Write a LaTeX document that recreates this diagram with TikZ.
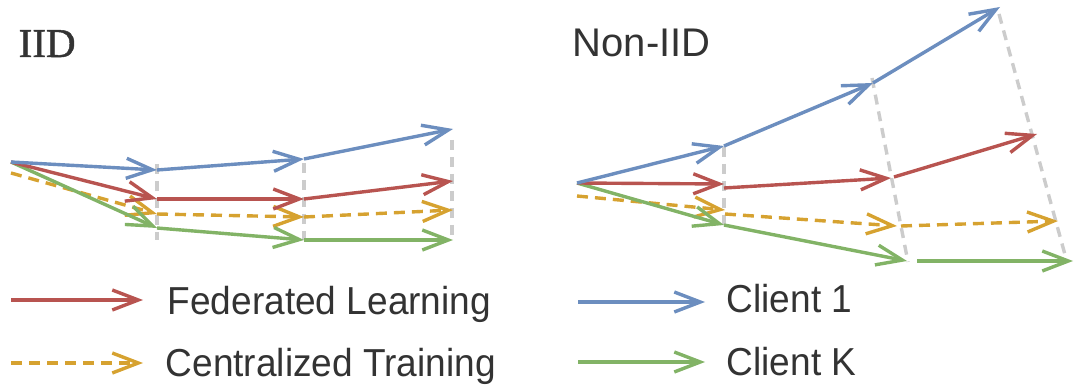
\documentclass[tikz,border=0pt]{standalone}
\usepackage{fontspec}
\setmainfont{Liberation Sans}
\newfontfamily\legfont[FakeStretch=0.95]{Liberation Sans}
\newfontfamily\ttlserif[FakeBold=1.2]{Liberation Serif}
\usetikzlibrary{arrows.meta}
\definecolor{cblue}{HTML}{6C8EBF}
\definecolor{cred}{HTML}{B85450}
\definecolor{cgreen}{HTML}{82B366}
\definecolor{corange}{HTML}{D6A230}
\definecolor{cgray}{HTML}{CCCCCC}
\definecolor{ctext}{HTML}{333333}
\begin{document}
\begin{tikzpicture}[x=1pt,y=-1pt,line width=3.4pt,
  vec/.style={-{Straight Barb[length=26pt,width=20pt]}},
  bluevec/.style={vec,draw=cblue},
  redvec/.style={vec,draw=cred},
  greenvec/.style={vec,draw=cgreen},
  orangevec/.style={vec,draw=corange,dash pattern=on 11pt off 7pt},
  grayline/.style={draw=cgray,dash pattern=on 10pt off 7pt},
  ttl/.style={anchor=base west,inner sep=0pt,text=ctext,font=\fontsize{40}{48}\selectfont},
  leg/.style={anchor=base west,inner sep=0pt,text=ctext,font=\legfont\fontsize{39}{46}\selectfont}]
\useasboundingbox (0,0) rectangle (1080,390);

% ---------- titles ----------
\node[ttl,font=\ttlserif\fontsize{41}{48}\selectfont] (tiid) at (17,57) {IID};
\node[ttl] (tnon) at (571,57) {Non-IID};

% ---------- IID panel ----------
\coordinate (o) at (11,162);
\coordinate (oy) at (11,173);
\coordinate (b1) at (157,170);
\coordinate (b2) at (304,159);
\coordinate (b3) at (453,129);
\coordinate (r1) at (157,199);
\coordinate (r2) at (304,199);
\coordinate (r3) at (453,181);
\coordinate (y1) at (157,214);
\coordinate (y2) at (304,217);
\coordinate (y3) at (453,210);
\coordinate (g1) at (157,228);
\coordinate (g2) at (304,240);
\coordinate (g3) at (453,240);
\coordinate (v1t) at (157,164);
\coordinate (v1b) at (157,240);
\coordinate (v2t) at (304,163);
\coordinate (v2b) at (304,240);
\coordinate (v3t) at (452,140);
\coordinate (v3b) at (452,240);

\draw[grayline] (v1t) -- (v1b);
\draw[grayline] (v2t) -- (v2b);
\draw[grayline] (v3t) -- (v3b);

\draw[orangevec] (oy) -- (y1);
\draw[orangevec] (y1) -- (y2);
\draw[orangevec] (y2) -- (y3);
\draw[greenvec] (o) -- (g1);
\draw[greenvec] (g1) -- (g2);
\draw[greenvec] (g2) -- (g3);
\draw[redvec] (o) -- (r1);
\draw[redvec] (r1) -- (r2);
\draw[redvec] (r2) -- (r3);
\draw[bluevec] (o) -- (b1);
\draw[bluevec] (b1) -- (b2);
\draw[bluevec] (b2) -- (b3);

% ---------- Non-IID panel ----------
\coordinate (O) at (577,183);
\coordinate (OY) at (577,196);
\coordinate (B1) at (724,146);
\coordinate (B2) at (873,83);
\coordinate (B3) at (1000,7);
\coordinate (R1) at (724,184);
\coordinate (R1s) at (724,188);
\coordinate (R2) at (891,178);
\coordinate (R2s) at (894,177);
\coordinate (R3) at (1037,134);
\coordinate (Y1) at (725,210);
\coordinate (Y1s) at (725,214);
\coordinate (Y2) at (897,226);
\coordinate (Y2s) at (901,226);
\coordinate (Y3) at (1058,221);
\coordinate (G1) at (724,225);
\coordinate (G2) at (907,261);
\coordinate (G2s) at (917,261);
\coordinate (G3) at (1073,261);
\coordinate (W1t) at (724,147);
\coordinate (W1b) at (724,225);
\coordinate (W2t) at (872,78);
\coordinate (W2b) at (908,262);
\coordinate (W3t) at (999,14);
\coordinate (W3b) at (1067,262);

\draw[grayline] (W1t) -- (W1b);
\draw[grayline] (W2t) -- (W2b);
\draw[grayline] (W3t) -- (W3b);

\draw[orangevec] (OY) -- (Y1);
\draw[orangevec] (Y1s) -- (Y2);
\draw[orangevec] (Y2s) -- (Y3);
\draw[greenvec] (O) -- (G1);
\draw[greenvec] (G1) -- (G2);
\draw[greenvec] (G2s) -- (G3);
\draw[redvec] (O) -- (R1);
\draw[redvec] (R1s) -- (R2);
\draw[redvec] (R2s) -- (R3);
\draw[bluevec] (O) -- (B1);
\draw[bluevec] (B1) -- (B2);
\draw[bluevec] (B2) -- (B3);

% ---------- legend ----------
\coordinate (lr0) at (11,300);
\coordinate (lr1) at (143,300);
\coordinate (ly0) at (11,363);
\coordinate (ly1) at (143,363);
\coordinate (lb0) at (578,302);
\coordinate (lb1) at (705,302);
\coordinate (lg0) at (578,362);
\coordinate (lg1) at (705,362);
\draw[redvec] (lr0) -- (lr1);
\draw[orangevec] (ly0) -- (ly1);
\draw[bluevec] (lb0) -- (lb1);
\draw[greenvec] (lg0) -- (lg1);
\node[leg] (tfl) at (166,315) {Federated Learning};
\node[leg] (tct) at (164,376) {Centralized Training};
\node[leg] (tc1) at (725,313) {Client 1};
\node[leg] (tck) at (725,375) {Client K};
\end{tikzpicture}
\end{document}
